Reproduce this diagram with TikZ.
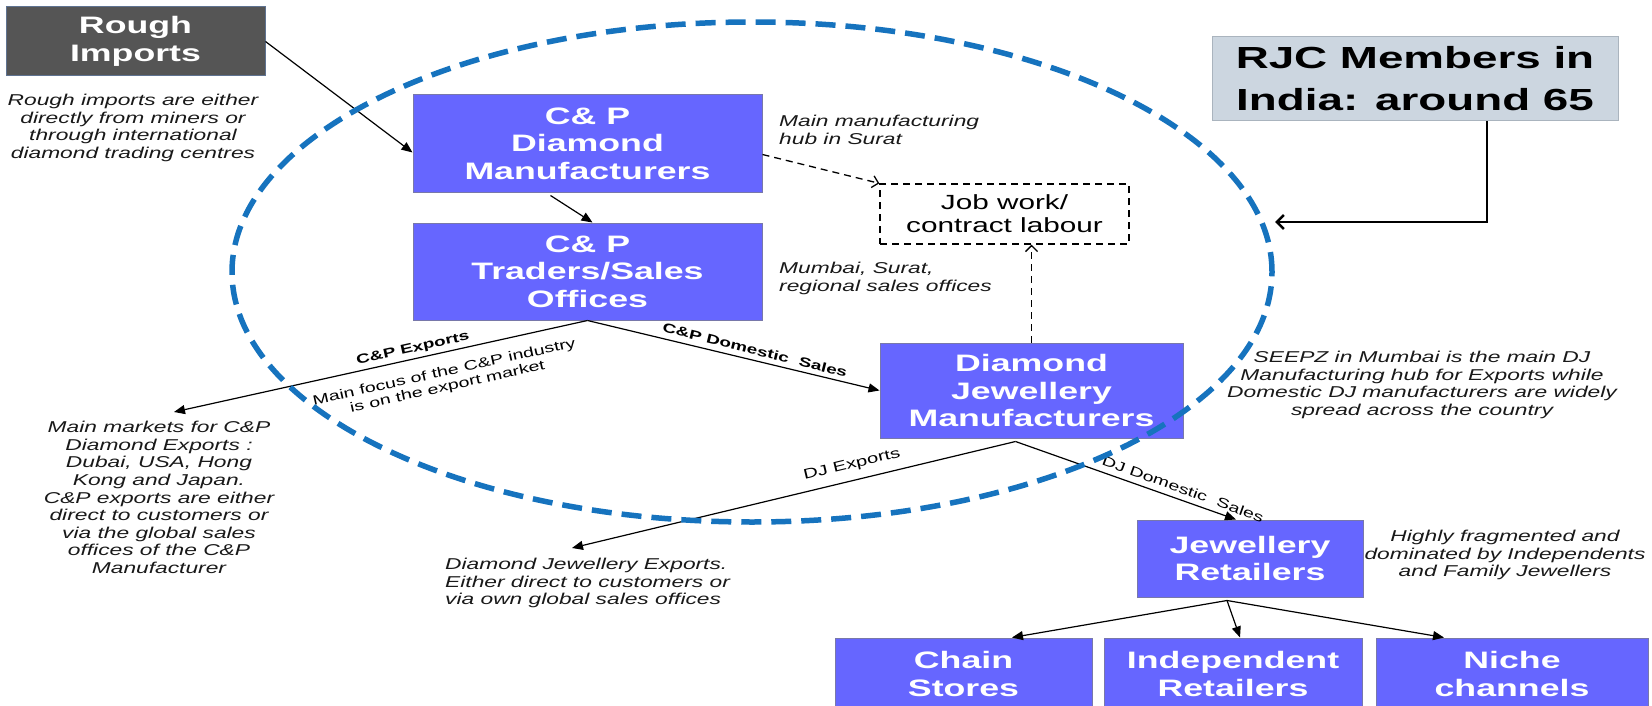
\documentclass[tikz,border=0pt]{standalone}
\usepackage{fontspec}
\setmainfont{Liberation Sans}
\newfontfamily\ws[FakeStretch=1.45]{Liberation Sans}
\newfontfamily\wb[FakeStretch=1.5]{Liberation Sans}
\usetikzlibrary{arrows.meta,calc}
\definecolor{boxblue}{RGB}{102,102,255}
\definecolor{boxedge}{RGB}{120,120,170}
\definecolor{roughfill}{RGB}{85,85,85}
\definecolor{roughedge}{RGB}{95,115,145}
\definecolor{rjcfill}{RGB}{204,214,224}
\definecolor{rjcedge}{RGB}{170,180,190}
\definecolor{ellblue}{RGB}{22,115,190}
\begin{document}
\begin{tikzpicture}[x=1pt,y=-1pt,
 box/.style={draw=boxedge, line width=1pt, fill=boxblue, text=white,
   font=\wb\bfseries\fontsize{23.8}{27.5}\selectfont, align=center, inner sep=0pt},
 roughbox/.style={box, fill=roughfill, draw=roughedge},
 rjcbox/.style={draw=rjcedge, line width=1pt, fill=rjcfill, text=black,
   font=\wb\bfseries\fontsize{30.5}{42}\selectfont, align=center, inner sep=0pt},
 jobbox/.style={draw=black, line width=1.3pt, dash pattern=on 7pt off 5pt, fill=white,
   font=\ws\fontsize{20.5}{23}\selectfont, align=center, inner sep=0pt},
 note/.style={font=\ws\itshape\fontsize{15.7}{17.6}\selectfont, inner sep=0pt, text=black!90},
 lab/.style={inner sep=0pt, text=black},
 arr/.style={line width=1.2pt, -{Triangle[length=11pt,width=9pt]}},
 darr/.style={line width=1.3pt, dash pattern=on 7pt off 5pt, -{Straight Barb[length=6pt,width=12pt]}},
 rjcarr/.style={line width=2.5pt, -{Straight Barb[length=7pt,width=14pt]}},
 ell/.style={draw=ellblue, line width=5.5pt, dash pattern=on 20pt off 10pt}
]
\useasboundingbox (0,0) rectangle (1652,706);
\clip (0,0) rectangle (1652,706);
\fill[white] (0,0) rectangle (1652,706);

% boxes
\node[roughbox, minimum width=259pt, minimum height=69pt] (rough) at (135.5,41.5) {Rough\\Imports};
\node[box, minimum width=349pt, minimum height=97pt] (cpdm) at (587.5,143.5) {C\& P\\Diamond\\Manufacturers};
\node[box, minimum width=349pt, minimum height=97pt] (tr) at (587.5,271.5) {C\& P\\Traders/Sales\\Offices};
\node[box, minimum width=303pt, minimum height=95pt] (dj) at (1031.5,390.5) {Diamond\\Jewellery\\Manufacturers};
\node[box, minimum width=226pt, minimum height=77pt] (jr) at (1250,558.5) {Jewellery\\Retailers};
\node[box, minimum width=257pt, minimum height=72pt] (chain) at (963.5,674) {Chain\\Stores};
\node[box, minimum width=258pt, minimum height=72pt] (ind) at (1233,674) {Independent\\Retailers};
\node[box, minimum width=272pt, minimum height=72pt] (niche) at (1512,674) {Niche\\channels};
\node[rjcbox, minimum width=406pt, minimum height=84pt] (rjc) at (1415,79) {RJC Members in\\India: around 65};
\node[jobbox, minimum width=249pt, minimum height=60pt] (job) at (1004.5,214) {Job work/\\contract labour};

% notes
\node[note, align=center] (nrough) at (133,128) {Rough imports are either\\directly from miners or\\through international\\diamond trading centres};
\node[note, align=center] (nmkt) at (159,497.5) {Main markets for C\&P\\Diamond Exports :\\Dubai, USA, Hong\\Kong and Japan.\\C\&P exports are either\\direct to customers or\\via the global sales\\offices of the C\&P\\Manufacturer};
\node[note, align=left, anchor=west] (nmfg) at (779,130) {Main manufacturing\\hub in Surat};
\node[note, align=left, anchor=west] (nmum) at (779,278.5) {Mumbai, Surat,\\regional sales offices};
\node[note, align=center] (nseepz) at (1422,385) {SEEPZ in Mumbai is the main DJ\\Manufacturing hub for Exports while\\Domestic DJ manufacturers are widely\\spread across the country};
\node[note, align=center] (nret) at (1505,555) {Highly fragmented and\\dominated by Independents\\and Family Jewellers};
\node[note, align=left, anchor=west] (ndj) at (445,583) {Diamond Jewellery Exports.\\Either direct to customers or\\via own global sales offices};

% connectors
\draw[arr] (rough.east) -- ($(cpdm.west)+(0,9)$);
\draw[arr] ($(cpdm.south)+(-37,3)$) -- ($(tr.north)+(5,0)$);
\draw[darr] ($(cpdm.east)+(0,11)$) -- (job.north west);
\draw[darr] (dj.north) -- (dj.north |- job.south);
\coordinate (rjcend) at (1275,222);
\draw[rjcarr] ($(rjc.south)+(72,0)$) |- (rjcend);
\coordinate (cpeend) at (174,412);
\draw[arr] (tr.south) -- (cpeend);
\draw[arr] (tr.south) -- (dj.west);
\coordinate (djs) at ($(dj.south)+(-16,3)$);
\coordinate (djeend) at (572,548);
\draw[arr] (djs) -- (djeend);
\draw[arr] (djs) -- ($(jr.north)+(-14,0)$);
\coordinate (jrs) at ($(jr.south)+(-23,3)$);
\draw[arr] (jrs) -- ($(chain.north)+(48.5,0)$);
\draw[arr] (jrs) -- ($(ind.north)+(7,0)$);
\draw[arr] (jrs) -- ($(niche.north)+(-68,0)$);

% labels
\node[lab, font=\ws\bfseries\fontsize{13}{15}\selectfont, rotate=12.5] (lcpe) at (413,349) {C\&P Exports};
\node[lab, align=center, font=\ws\fontsize{13.5}{15}\selectfont, rotate=12.5] (lfocus) at (446,380) {Main focus of the C\&P industry\\is on the export market};
\node[lab, font=\ws\bfseries\fontsize{13}{15}\selectfont, rotate=-14] (lcpd) at (755,350) {C\&P Domestic\ \ Sales};
\node[lab, font=\ws\fontsize{14}{16}\selectfont, rotate=13.5] (ldje) at (852,465) {DJ Exports};
\node[lab, font=\ws\fontsize{13.5}{15}\selectfont, rotate=-20] (ldjd) at (1183,489) {DJ Domestic\ \ Sales};

% dashed ellipse
\draw[ell] (752,272) ellipse [x radius=520pt, y radius=250pt];
\end{tikzpicture}
\end{document}
